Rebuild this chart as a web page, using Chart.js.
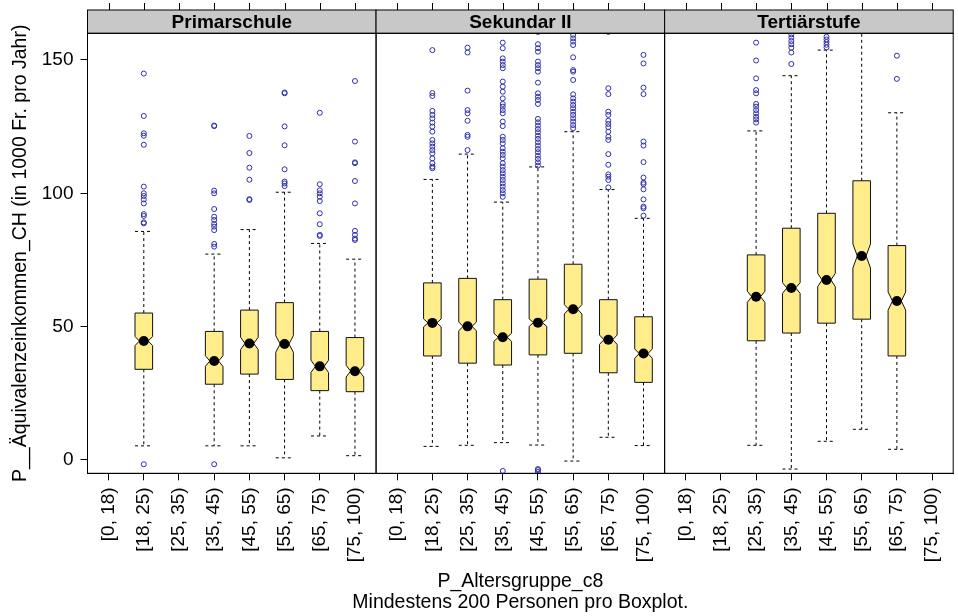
<!DOCTYPE html>
<html><head><meta charset="utf-8">
<script src="https://cdn.jsdelivr.net/npm/chart.js@4.4.1/dist/chart.umd.min.js"></script>
<style>
html,body{margin:0;padding:0;background:#fff;overflow:hidden;width:958px;height:616px}
#wrap{position:relative;width:962px;height:616px}
canvas{display:block}
</style></head>
<body><div id="wrap"><canvas id="c" width="962" height="616"></canvas></div>
<script>
// ---------- data ----------
const categories = ['[0, 18)','[18, 25)','[25, 35)','[35, 45)','[45, 55)','[55, 65)','[65, 75)','[75, 100)'];
const panels = ['Primarschule','Sekundar II','Tertiärstufe'];
const yTicks = [0, 50, 100, 150];

// Primarschule
const primarMedian = [null, 44.6, null, 37.1, 43.7, 43.5, 35.1, 33.3];
const primarQ1     = [null, 34.0, null, 28.4, 32.2, 30.2, 26.0, 25.6];
const primarQ3     = [null, 55.1, null, 48.2, 56.2, 59.0, 48.2, 45.9];
const primarLow    = [null, 5.3, null, 5.3, 5.3, 0.8, 9.0, 1.6];
const primarHigh   = [null, 85.7, null, 77.2, 86.4, 100.4, 81.2, 75.3];
const primarNotch  = [null, 1.7, null, 2.0, 2.3, 3.1, 2.3, 2.2];
const primarOut = [
  [],
  [-1.6, 88.7, 89.1, 91.5, 92.2, 96.2, 97.7, 99, 100, 102.5, 118.2, 121.6, 122.5, 129, 144.9],
  [],
  [-1.6, 80.0, 81.0, 86.2, 87.5, 88.5, 90.0, 91.2, 94.1, 100.0, 101.0, 125.2, 125.4],
  [97.5, 97.8, 105.1, 109.6, 115.1, 121.5],
  [102.7, 103.7, 104.4, 109, 118, 125.1, 137.5, 137.8],
  [84.0, 84.4, 88.4, 92.5, 97.1, 98.7, 100, 101.1, 103.4, 130.2],
  [82.5, 83.0, 84.4, 85.9, 96.2, 104.6, 111.3, 111.6, 119.4, 142.1]
];

// Sekundar II
const sekMedian = [null, 51.4, 50.1, 46.0, 51.5, 56.5, 45.1, 39.9];
const sekQ1     = [null, 39.0, 36.3, 35.6, 39.4, 40.0, 32.7, 29.1];
const sekQ3     = [null, 66.4, 68.1, 60.1, 67.8, 73.4, 60.1, 53.7];
const sekLow    = [null, 5.1, 5.5, 6.5, 5.6, -0.4, 8.5, 5.4];
const sekHigh   = [null, 105.2, 114.7, 96.7, 109.9, 123.1, 101.4, 90.6];
const sekNotch  = [null, 1.5, 1.6, 1.5, 1.4, 1.75, 1.75, 1.75];
const sekOut = [
  [],
  [109.4, 110, 111.3, 113.1, 115, 116.2, 117.5, 118.7, 120, 123.1, 125, 126.5, 128.1, 129.4, 130.9, 136.5, 137.6, 153.7, 161],
  [116.2, 121.2, 121.9, 127.2, 130, 131.2, 138.5, 152.8, 154.6],
  [-4.1, 98.7, 100, 101.2, 102.5, 103.7, 105, 106.2, 107.5, 108.7, 110, 111.3, 113.1, 114.4, 115.6, 116.9, 118.7, 120, 121.2, 125.2, 126.9, 130, 131.2, 132.5, 133.5, 135.6, 138.1, 140, 141.9, 146.9, 148.1, 149.4, 150.6, 154.4, 156.5],
  [-4.5, -3.8, -3.4, 110.4, 111.6, 112.9, 114.1, 115.4, 116.6, 117.9, 119.1, 120.4, 121.6, 122.9, 124.1, 125.4, 126.6, 127.9, 133.5, 135, 136.2, 137.5, 141.5, 145.6, 146.9, 148.1, 149.4, 153.1, 154.4, 155.9, 160.5],
  [124.4, 125.6, 126.9, 128.1, 129.4, 130.6, 131.9, 133.1, 134.4, 135.6, 137.1, 142.5, 145.6, 146.2, 151, 155.6, 156.9, 158.1, 159.4],
  [102.2, 105, 106.2, 107.1, 110.7, 114.7, 120, 121.2, 123.1, 124.8, 126, 127.2, 129.4, 130.6, 137.2, 139.4, 160.5],
  [91.6, 94.4, 95, 97.7, 101.5, 103.4, 104, 105.9, 111.7, 117.9, 119.4, 137.2, 139.6, 148.7, 151.9]
];

// Tertiärstufe
const tertMedian = [null, null, 61.2, 64.5, 67.5, 76.5, 59.6, null];
const tertQ1     = [null, null, 44.7, 47.6, 51.3, 52.8, 39.0, null];
const tertQ3     = [null, null, 76.9, 86.9, 92.5, 104.7, 80.4, null];
const tertLow    = [null, null, 5.5, -3.4, 7.0, 11.5, 4.0, null];
const tertHigh   = [null, null, 123.4, 144.1, 153.7, 168, 130.2, null];
const tertNotch  = [null, null, 2.1, 2.0, 2.5, 4.5, 3.4, null];
const tertOut = [
  [], [],
  [126.5, 127.7, 128.7, 130, 131.2, 132.5, 133.5, 137.5, 138.7, 143.1, 149.8, 156.5],
  [148.5, 152.8, 154.6, 155.9, 157.1, 158.4, 159.6],
  [154.7, 155.7, 156.7, 157.7, 158.7],
  [],
  [142.9, 151.6],
  []
];

// ---------- build ----------
const PANEL_SPAN = 8.2;      // x-units per panel (0.4 .. 8.6)
const BOX_HALF = 0.25;
const panelStats = [
  {median: primarMedian, q1: primarQ1, q3: primarQ3, low: primarLow, high: primarHigh, notch: primarNotch, out: primarOut},
  {median: sekMedian, q1: sekQ1, q3: sekQ3, low: sekLow, high: sekHigh, notch: sekNotch, out: sekOut},
  {median: tertMedian, q1: tertQ1, q3: tertQ3, low: tertLow, high: tertHigh, notch: tertNotch, out: tertOut}
];
const pos = (k, i) => k * PANEL_SPAN + i + 1;

const outlierPts = [], medianPts = [], tickPositions = [];
panelStats.forEach((p, k) => {
  categories.forEach((c, i) => {
    tickPositions.push(pos(k, i));
    if (p.median[i] !== null) medianPts.push({x: pos(k, i), y: p.median[i]});
    p.out[i].forEach(v => outlierPts.push({x: pos(k, i), y: v}));
  });
});

const FONT = '"Liberation Sans", Arial, sans-serif';
Chart.defaults.font.family = FONT;
Chart.defaults.color = '#000';

const latticePlugin = {
  id: 'lattice',
  beforeDatasetsDraw(chart) {
    const {ctx, chartArea: a, scales: {x, y}} = chart;
    ctx.save();
    // strips
    panels.forEach((name, k) => {
      const x0 = x.getPixelForValue(0.4 + k * PANEL_SPAN);
      const x1 = x.getPixelForValue(0.4 + (k + 1) * PANEL_SPAN);
      ctx.fillStyle = '#C8C8C8';
      ctx.fillRect(x0, 10, x1 - x0, a.top - 10);
      ctx.strokeStyle = '#000'; ctx.lineWidth = 1;
      ctx.strokeRect(x0, 10, x1 - x0, a.top - 10);
      ctx.fillStyle = '#000';
      ctx.font = 'bold 19px ' + FONT;
      ctx.textAlign = 'center'; ctx.textBaseline = 'middle';
      ctx.fillText(name, (x0 + x1) / 2, (10 + a.top) / 2 + 1);
    });
    // boxes + whiskers
    ctx.beginPath(); ctx.rect(a.left, a.top, a.right - a.left, a.bottom - a.top); ctx.clip();
    panelStats.forEach((p, k) => {
      categories.forEach((c, i) => {
        if (p.median[i] === null) return;
        const cx = pos(k, i);
        const X = v => x.getPixelForValue(v), Y = v => y.getPixelForValue(v);
        // whiskers
        ctx.strokeStyle = '#000'; ctx.lineWidth = 1; ctx.setLineDash([3, 3]);
        ctx.beginPath();
        ctx.moveTo(X(cx), Y(p.q3[i])); ctx.lineTo(X(cx), Y(p.high[i]));
        ctx.moveTo(X(cx), Y(p.q1[i])); ctx.lineTo(X(cx), Y(p.low[i]));
        ctx.moveTo(X(cx - BOX_HALF), Y(p.high[i])); ctx.lineTo(X(cx + BOX_HALF), Y(p.high[i]));
        ctx.moveTo(X(cx - BOX_HALF), Y(p.low[i])); ctx.lineTo(X(cx + BOX_HALF), Y(p.low[i]));
        ctx.stroke();
        ctx.setLineDash([]);
        // notched box
        const m = p.median[i], n = p.notch[i];
        const L = cx - BOX_HALF, R = cx + BOX_HALF, l2 = cx - BOX_HALF / 2, r2 = cx + BOX_HALF / 2;
        const poly = [[L, p.q1[i]], [L, m - n], [l2, m], [L, m + n], [L, p.q3[i]],
                      [R, p.q3[i]], [R, m + n], [r2, m], [R, m - n], [R, p.q1[i]]];
        ctx.beginPath();
        poly.forEach(([px, py], j) => j ? ctx.lineTo(X(px), Y(py)) : ctx.moveTo(X(px), Y(py)));
        ctx.closePath();
        ctx.fillStyle = '#FFEC8B'; ctx.fill();
        ctx.strokeStyle = '#111'; ctx.lineWidth = 1; ctx.stroke();
      });
    });
    ctx.restore();
  },
  afterDatasetsDraw(chart) {
    const {ctx, chartArea: a, scales: {x}} = chart;
    ctx.save();
    ctx.strokeStyle = '#000'; ctx.lineWidth = 1;
    panels.forEach((name, k) => {
      const x0 = x.getPixelForValue(0.4 + k * PANEL_SPAN);
      const x1 = x.getPixelForValue(0.4 + (k + 1) * PANEL_SPAN);
      ctx.strokeRect(x0, a.top, x1 - x0, a.bottom - a.top);
    });
    // top tick marks above the strips
    ctx.beginPath();
    tickPositions.forEach(v => {
      const px = Math.round(x.getPixelForValue(v)) + 0.5;
      ctx.moveTo(px, 3); ctx.lineTo(px, 10);
    });
    ctx.stroke();
    ctx.restore();
  }
};

new Chart(document.getElementById('c'), {
  type: 'scatter',
  data: {
    datasets: [
      {label: 'Median', data: medianPts, pointRadius: 5, pointHoverRadius: 5,
       backgroundColor: '#000', borderColor: '#000', borderWidth: 0, clip: 0, order: 1},
      {label: 'Ausreisser', data: outlierPts, pointRadius: 2.5, pointHoverRadius: 2.5,
       backgroundColor: 'rgba(0,0,0,0)', borderColor: '#2F2FA8', borderWidth: 1, clip: 0, order: 2}
    ]
  },
  options: {
    responsive: false, animation: false,
    layout: {padding: {top: 33.3, left: 0, right: 0, bottom: 0}},
    plugins: {legend: {display: false}, tooltip: {enabled: false}},
    scales: {
      x: {
        type: 'linear', min: 0.4, max: 0.4 + 3 * PANEL_SPAN,
        afterBuildTicks: s => { s.ticks = tickPositions.map(v => ({value: v})); },
        afterFit: s => { s.height = 616 - 473.3; },
        ticks: {
          autoSkip: false, minRotation: 90, maxRotation: 90, padding: 7,
          font: {size: 19}, color: '#000',
          callback: v => {
            const k = Math.floor((v - 0.4) / PANEL_SPAN);
            const i = Math.round(v - k * PANEL_SPAN) - 1;
            return categories[i];
          }
        },
        grid: {display: true, drawOnChartArea: false, drawTicks: true, tickLength: 7, color: '#000'},
        border: {display: true, color: '#000'},
        title: {display: true, text: ['P_Altersgruppe_c8', 'Mindestens 200 Personen pro Boxplot.'],
                font: {size: 19.5, lineHeight: 1.08}, color: '#000', padding: {top: 0, bottom: 3}}
      },
      y: {
        type: 'linear', min: -5, max: 160,
        afterBuildTicks: s => { s.ticks = yTicks.map(v => ({value: v})); },
        afterFit: s => { s.width = 87.5; },
        ticks: {font: {size: 19}, color: '#000', padding: 7},
        grid: {display: true, drawOnChartArea: false, drawTicks: true, tickLength: 7, color: '#000'},
        border: {display: true, color: '#000'},
        title: {display: true, text: 'P__Äquivalenzeinkommen_CH (in 1000 Fr. pro Jahr)',
                font: {size: 19.5}, color: '#000', padding: {top: 9, bottom: 0}}
      }
    }
  },
  plugins: [latticePlugin]
});
</script>
</body></html>
